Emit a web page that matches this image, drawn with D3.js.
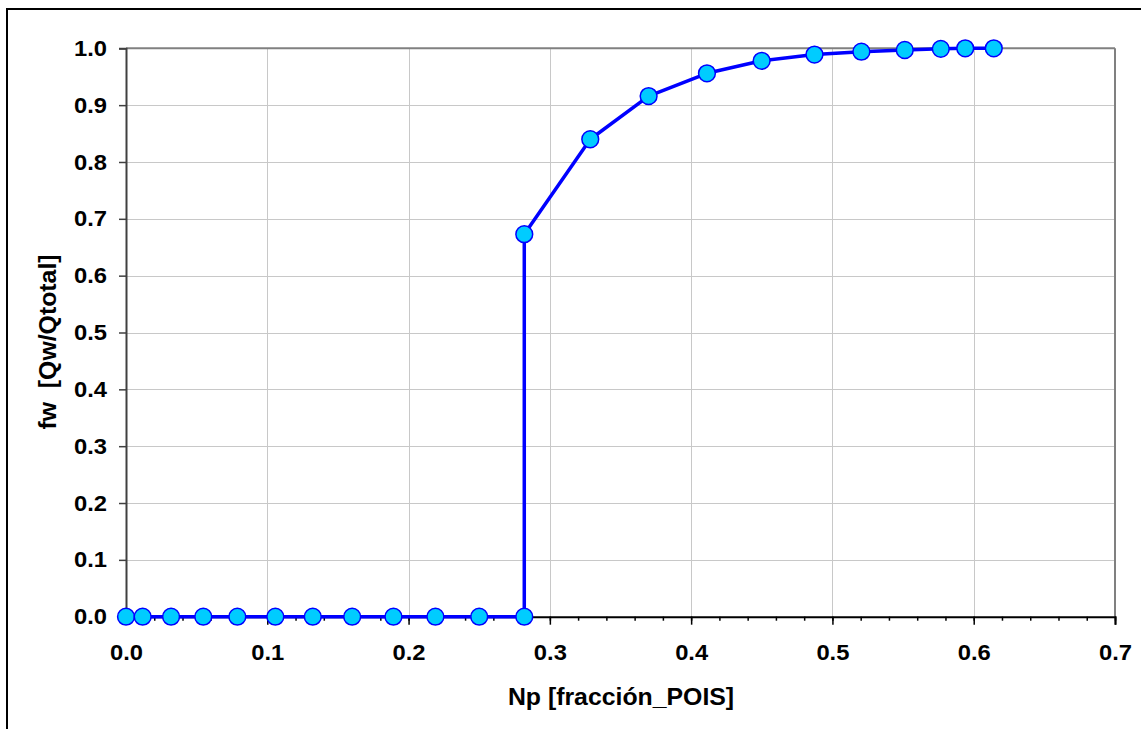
<!DOCTYPE html>
<html>
<head>
<meta charset="utf-8">
<script src="https://cdn.jsdelivr.net/npm/d3@7"></script>
<style>
  html, body { margin: 0; padding: 0; background: #fff; }
  svg { display: block; }
  text { font-family: "Liberation Sans", Arial, sans-serif; font-weight: bold; fill: #000; }
</style>
</head>
<body>
<svg id="chart" width="1141" height="729"></svg>
<script>
// Data
const npValues = [0.0, 0.0118, 0.0319, 0.0547, 0.0788, 0.1057, 0.1322, 0.1601, 0.1893, 0.2190, 0.2500, 0.2819,
                  0.2819, 0.3286, 0.3699, 0.4112, 0.4499, 0.4873, 0.5205, 0.5512, 0.5767, 0.5940, 0.6142];
const fwValues = [0, 0, 0, 0, 0, 0, 0, 0, 0, 0, 0, 0,
                  0.673, 0.840, 0.916, 0.956, 0.978, 0.989, 0.994, 0.997, 0.999, 1.0, 1.0];
const xTicks = [0.0, 0.1, 0.2, 0.3, 0.4, 0.5, 0.6, 0.7];
const xMinorTicks = d3.range(0, 71, 2).map(d => d / 100);
const yTicks = [0.0, 0.1, 0.2, 0.3, 0.4, 0.5, 0.6, 0.7, 0.8, 0.9, 1.0];
const xTitle = "Np [fracción_POIS]";
const yTitle = "fw  [Qw/Qtotal]";

const svg = d3.select("#chart");
const L = 126, R = 1115, T = 48.3, B = 616.7;
const SX = 1.08; // horizontal stretch of the text in the reference
const x = d3.scaleLinear().domain([0, 0.7]).range([L, R]);
const y = d3.scaleLinear().domain([0, 1]).range([B, T]);

// outer frame
svg.append("rect").attr("x", 7).attr("y", 9).attr("width", 1150).attr("height", 740)
  .attr("fill", "none").attr("stroke", "#000").attr("stroke-width", 2);

// grid
const g = svg.append("g");
g.selectAll("line.hg").data(yTicks.slice(1, -1)).join("line")
  .attr("x1", L).attr("x2", R).attr("y1", d => Math.round(y(d)) + 0.5).attr("y2", d => Math.round(y(d)) + 0.5)
  .attr("stroke", "#c8c8c8").attr("stroke-width", 1);
g.selectAll("line.vg").data(xTicks.slice(1, -1)).join("line")
  .attr("y1", T).attr("y2", B).attr("x1", d => Math.round(x(d)) + 0.5).attr("x2", d => Math.round(x(d)) + 0.5)
  .attr("stroke", "#c8c8c8").attr("stroke-width", 1);

// plot border top/right
svg.append("line").attr("x1", L).attr("x2", R).attr("y1", T).attr("y2", T).attr("stroke", "#808080").attr("stroke-width", 2);
svg.append("line").attr("x1", R).attr("x2", R).attr("y1", T).attr("y2", B).attr("stroke", "#808080").attr("stroke-width", 2);

// x axis
const xAxisMinor = d3.axisBottom(x).tickValues(xMinorTicks).tickSize(4).tickFormat("");
const gxm = svg.append("g").attr("transform", `translate(0,${B})`).call(xAxisMinor);
gxm.select(".domain").remove();
gxm.selectAll("line").attr("stroke", "#000").attr("stroke-width", 1.5);

const xAxis = d3.axisBottom(x).tickValues(xTicks).tickSize(8).tickPadding(20).tickFormat(d3.format(".1f"));
const gx = svg.append("g").attr("transform", `translate(0,${B})`).call(xAxis);
gx.select(".domain").attr("stroke", "#000").attr("stroke-width", 2);
gx.selectAll("line").attr("stroke", "#000").attr("stroke-width", 1.5);
gx.selectAll("text").attr("font-size", 22).attr("font-family", "Liberation Sans, Arial, sans-serif")
  .attr("font-weight", "bold").attr("fill", "#000").attr("transform", `scale(${SX},1)`);

// y axis
const yAxis = d3.axisLeft(y).tickValues(yTicks).tickSize(7).tickPadding(10.6).tickFormat(d3.format(".1f"));
const gy = svg.append("g").attr("transform", `translate(${L},0)`).call(yAxis);
gy.select(".domain").attr("stroke", "#404040").attr("stroke-width", 2);
gy.selectAll("line").attr("stroke", "#404040").attr("stroke-width", 1.5);
gy.selectAll("text").attr("font-size", 22).attr("font-family", "Liberation Sans, Arial, sans-serif")
  .attr("font-weight", "bold").attr("fill", "#000").attr("transform", `scale(${SX},1)`);

// titles
svg.append("text").attr("transform", `translate(621,705) scale(${SX},1)`).attr("text-anchor", "middle")
  .attr("font-size", 23).text(xTitle);
svg.append("text").attr("transform", `translate(56,342) rotate(-90) scale(${SX},1)`).attr("text-anchor", "middle")
  .style("white-space", "pre").attr("font-size", 23).text(yTitle);

// data
const pts = npValues.map((v, i) => [v, fwValues[i]]);
svg.append("path").datum(pts)
  .attr("d", d3.line().x(d => x(d[0])).y(d => y(d[1])))
  .attr("fill", "none").attr("stroke", "#0000ff").attr("stroke-width", 3.5).attr("stroke-linejoin", "round");
svg.selectAll("circle.pt").data(pts).join("circle")
  .attr("cx", d => x(d[0])).attr("cy", d => y(d[1])).attr("r", 8.4)
  .attr("fill", "#00ccff").attr("stroke", "#0000ff").attr("stroke-width", 1.5);
</script>
</body>
</html>
